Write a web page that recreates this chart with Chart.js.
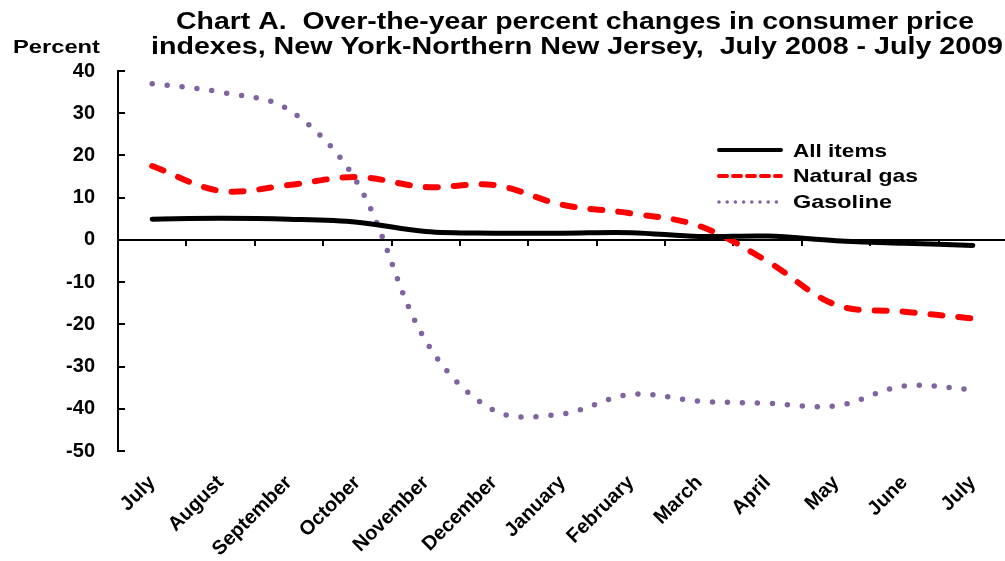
<!DOCTYPE html>
<html>
<head>
<meta charset="utf-8">
<script src="https://cdn.jsdelivr.net/npm/chart.js@4.4.1/dist/chart.umd.min.js"></script>
<style>
  html, body { margin: 0; padding: 0; background: #fff; overflow: hidden; }
  #wrap { width: 1005px; height: 561px; overflow: hidden; }
</style>
</head>
<body>
<div id="wrap"><canvas id="chart" width="1012" height="561"></canvas></div>
<script>
// months, July 2008 - July 2009
const months = ["July", "August", "September", "October", "November", "December",
  "January", "February", "March", "April", "May", "June", "July"];

// over-the-year percent changes
const all_items   = [4.9, 5.1, 4.9, 4.2, 2.0, 1.6, 1.6, 1.7, 0.8, 0.9, -0.2, -0.8, -1.3];
const natural_gas = [17.5, 11.6, 13.0, 14.9, 12.5, 13.0, 8.3, 6.3, 3.3, -5.1, -15.4, -17.0, -18.6];
const gasoline    = [37.0, 35.0, 30.8, 13.5, -23.9, -40.4, -41.2, -36.6, -38.2, -38.7, -39.3, -34.6, -35.5];

const y_ticks = [40, 30, 20, 10, 0, -10, -20, -30, -40, -50];

const title_lines = [
  "Chart A.  Over-the-year percent changes in consumer price",
  "indexes, New York-Northern New Jersey,  July 2008 - July 2009"
];

const FONT = "'Liberation Sans', Arial, sans-serif";

// draw text squeezed/stretched between two x positions
function stretchText(ctx, text, x0, x1, baseline, font) {
  ctx.save();
  ctx.font = font;
  const w = ctx.measureText(text).width;
  ctx.translate(x0, baseline);
  ctx.scale((x1 - x0) / w, 1);
  ctx.fillStyle = "#000";
  ctx.textBaseline = "alphabetic";
  ctx.textAlign = "left";
  ctx.fillText(text, 0, 0);
  ctx.restore();
}

// zero line, inner tick marks, title, legend
const decorations = {
  id: "decorations",
  beforeDatasetsDraw(chart) {
    const { ctx, chartArea, scales } = chart;
    const y0 = Math.round(scales.y.getPixelForValue(0));
    ctx.save();
    ctx.strokeStyle = "#000";
    ctx.lineWidth = 2;
    ctx.beginPath();
    ctx.moveTo(chartArea.left, y0);
    ctx.lineTo(chartArea.right, y0);
    // y ticks pointing into the plot
    scales.y.ticks.forEach((t, i) => {
      const py = Math.round(scales.y.getPixelForTick(i));
      ctx.moveTo(chartArea.left, py);
      ctx.lineTo(chartArea.left + 7, py);
    });
    // x ticks between categories, hanging from zero line
    for (let i = 1; i < months.length; i++) {
      const px = Math.round((scales.x.getPixelForTick(i - 1) + scales.x.getPixelForTick(i)) / 2);
      ctx.moveTo(px, y0);
      ctx.lineTo(px, y0 + 6);
    }
    ctx.stroke();
    ctx.restore();
  },
  afterDraw(chart) {
    const ctx = chart.ctx;
    stretchText(ctx, title_lines[0], 176, 974, 29, "bold 23px " + FONT);
    stretchText(ctx, title_lines[1], 151, 1003, 54, "bold 23px " + FONT);
    stretchText(ctx, "Percent", 13, 100, 53, "bold 19px " + FONT);

    // legend
    const rows = [150, 176, 202];
    chart.data.datasets.forEach((ds, i) => {
      const y = rows[i];
      ctx.save();
      ctx.strokeStyle = ds.borderColor;
      ctx.lineWidth = i === 2 ? 3.5 : 4;
      ctx.lineCap = ds.borderCapStyle || "butt";
      if (i === 1) ctx.setLineDash([8, 6]);
      if (i === 2) ctx.setLineDash([0, 8.2]);
      ctx.beginPath();
      ctx.moveTo(719, y);
      ctx.lineTo(781, y);
      ctx.stroke();
      ctx.restore();
    });
    stretchText(ctx, "All items", 793, 887, 157, "bold 19px " + FONT);
    stretchText(ctx, "Natural gas", 793, 918, 182, "bold 19px " + FONT);
    stretchText(ctx, "Gasoline", 793, 892, 208, "bold 19px " + FONT);
  }
};

new Chart(document.getElementById("chart"), {
  type: "line",
  data: {
    labels: months,
    datasets: [
      {
        label: "All items",
        data: all_items,
        borderColor: "#000000",
        borderWidth: 5,
        borderCapStyle: "round",
        tension: 0.35,
        pointRadius: 0
      },
      {
        label: "Natural gas",
        data: natural_gas,
        borderColor: "#ff0000",
        borderWidth: 6,
        borderDash: [12, 16],
        borderCapStyle: "round",
        tension: 0.35,
        pointRadius: 0
      },
      {
        label: "Gasoline",
        data: gasoline,
        borderColor: "#8064a2",
        borderWidth: 5.5,
        borderDash: [0, 15],
        borderCapStyle: "round",
        tension: 0.35,
        pointRadius: 0
      }
    ]
  },
  options: {
    responsive: false,
    animation: false,
    devicePixelRatio: 1,
    layout: { padding: { top: 71, right: 5, left: 0, bottom: 0 } },
    scales: {
      x: {
        offset: true,
        grid: { display: false, drawTicks: false },
        border: { display: false },
        afterFit: (scale) => { scale.height = 110; },
        ticks: {
          autoSkip: false,
          minRotation: 45,
          maxRotation: 45,
          padding: 20,
          color: "#000",
          font: { family: FONT, size: 20, weight: "bold" }
        }
      },
      y: {
        min: -50,
        max: 40,
        afterFit: (scale) => { scale.width = 118; },
        afterBuildTicks: (scale) => {
          scale.ticks = y_ticks.map(v => ({ value: v }));
        },
        grid: { display: false, drawTicks: false },
        border: { display: true, color: "#000", width: 2 },
        ticks: {
          padding: 23,
          color: "#000",
          font: { family: FONT, size: 20, weight: "bold" }
        }
      }
    },
    plugins: {
      legend: { display: false },
      title: { display: false },
      tooltip: { enabled: false }
    }
  },
  plugins: [decorations]
});
</script>
</body>
</html>
